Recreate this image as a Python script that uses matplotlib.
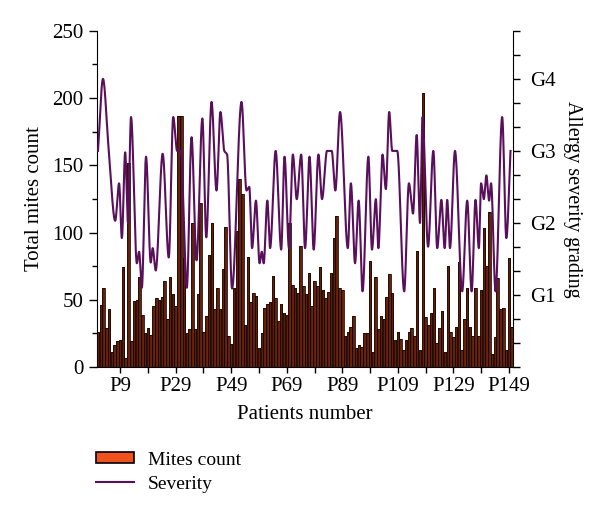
import numpy as np
import matplotlib
matplotlib.use('Agg')
import matplotlib.pyplot as plt
from matplotlib.colors import LinearSegmentedColormap
from matplotlib.patches import Patch
from matplotlib.lines import Line2D
from matplotlib.ticker import MultipleLocator

plt.rcParams['font.family'] = ['Liberation Serif', 'DejaVu Serif']

# mites count per patient (P1..P150)
mites = [26, 46, 59, 29, 43, 11, 16, 19, 20, 74, 7, 152,
         19, 49, 50, 67, 39, 25, 29, 24, 45, 51, 50, 52, 64, 36, 67, 54, 45,
         187, 187, 81, 25, 28, 107,
         28, 54, 122, 26, 38, 83, 107, 43, 59, 43, 73, 104, 23, 17, 59, 101,
         140, 129, 31, 82, 48, 55, 53, 14, 25, 44, 47, 48, 68, 51, 34, 47,
         40, 39, 107, 61, 59,
         55,
         90, 60, 54, 70, 45, 64, 60, 74, 57, 51, 56, 70, 96, 112, 59, 57,
         23, 26, 30, 38, 14, 16, 15, 25, 25, 79, 11, 67, 28, 38, 36, 52,
         69, 55, 20, 26,
         21, 13,
         20, 26, 29, 23, 86, 13, 204, 37, 31, 40, 59, 18, 29, 42, 11, 75,
         26, 22, 30, 78, 13, 36, 59, 30, 23, 59, 23, 57,
         103, 75, 115, 10, 22, 66, 43, 44, 13, 81, 30]
patients = np.arange(1, len(mites) + 1)

# severity curve: turning points (patient position, grade)
sev_x = [1, 2.8, 4.8, 7.2, 8.6, 9.6, 10.8, 11.8, 12.9, 15, 15.8, 16.8, 18.3, 20, 20.7,
         21.8, 24.3, 26.5, 28.1, 29.5, 30.8, 33, 34.7, 36.5, 38.6, 40, 41.9, 43.7, 45.1,
         46.5, 47.5, 49.3, 52.7, 54.5, 55.5, 56.5, 57.9, 59.2, 60, 60.7, 62, 63, 65, 67,
         68.2, 69.8, 71.2, 72.6, 74.2, 75.6, 77.2, 78.7, 80.4, 81.7, 83.5, 85.2, 86.5,
         88.2, 91, 92.1, 93.6, 94.9, 96.3, 98.4, 99.7, 101.1, 102, 103.5, 104.7, 105.9,
         107, 108.8, 111.3, 113, 114.5, 115.8, 117, 117.9, 119.9, 121.8, 123.2, 124.7,
         125.9, 126.8, 127.8, 129.6, 132.2, 134, 135.6, 137, 138.2, 139, 140, 140.9,
         141.9, 142.6, 144.2, 146.6, 148.1, 149.6]
sev_g = [3.0, 4.0, 3.05, 2.03, 2.55, 1.79, 2.98, 2.0, 3.47, 1.44, 1.6, 1.1, 2.92, 1.45,
         1.65, 1.34, 2.96, 1.52, 3.47, 3.0, 3.0, 1.1, 3.19, 1.48, 3.45, 1.8, 3.68, 2.45,
         3.54, 3.0, 2.95, 1.09, 3.68, 2.45, 2.5, 1.65, 2.31, 1.44, 1.6, 1.44, 2.31, 1.65,
         3.0, 1.63, 2.92, 1.65, 2.95, 2.33, 2.95, 1.65, 2.92, 1.63, 2.95, 2.33, 3.0, 3.0,
         2.45, 3.54, 1.65, 2.55, 1.44, 2.31, 1.05, 2.92, 1.63, 2.33, 1.65, 2.95, 2.47,
         3.54, 3.0, 3.0, 1.05, 2.55, 2.13, 3.22, 2.0, 3.47, 1.67, 3.0, 1.65, 2.32, 1.65,
         2.32, 1.65, 3.0, 1.05, 2.31, 1.05, 2.32, 1.65, 2.55, 2.33, 2.66, 2.31, 2.55,
         1.05, 3.47, 1.79, 3.0]

xticks_major = [9, 29, 49, 69, 89, 109, 129, 149]
xticks_minor = [19, 39, 59, 79, 99, 119, 139]
grade_labels = ['G1', 'G2', 'G3', 'G4']


def pchip(x, y, xs):
    # shape-preserving cubic so the line is smooth like the original
    x = np.asarray(x, float)
    y = np.asarray(y, float)
    h = np.diff(x)
    d = np.diff(y) / h
    m = np.zeros_like(y)
    m[0], m[-1] = d[0], d[-1]
    for k in range(1, len(x) - 1):
        if d[k - 1] * d[k] > 0:
            w1 = 2 * h[k] + h[k - 1]
            w2 = h[k] + 2 * h[k - 1]
            m[k] = (w1 + w2) / (w1 / d[k - 1] + w2 / d[k])
    idx = np.clip(np.searchsorted(x, xs) - 1, 0, len(x) - 2)
    t = (xs - x[idx]) / h[idx]
    h00 = 2 * t**3 - 3 * t**2 + 1
    h10 = t**3 - 2 * t**2 + t
    h01 = -2 * t**3 + 3 * t**2
    h11 = t**3 - t**2
    return h00 * y[idx] + h10 * h[idx] * m[idx] + h01 * y[idx + 1] + h11 * h[idx] * m[idx + 1]


fig = plt.figure(figsize=(6, 5.14), dpi=100)
ax = fig.add_axes([0.161, 0.286, 0.694, 0.654])

bars = ax.bar(patients, mites, width=0.9, facecolor='none',
              edgecolor='#1a0700', linewidth=0.6, zorder=3)
cmap = LinearSegmentedColormap.from_list('barfill', ['#d2581f', '#6a2410', '#4a1608', '#823015'])
grad = np.linspace(0, 1, 16).reshape(1, -1)
for rect in bars:
    x0 = rect.get_x()
    im = ax.imshow(grad, extent=[x0, x0 + rect.get_width(), 0, rect.get_height()],
                   aspect='auto', cmap=cmap, interpolation='bilinear', zorder=2)
    im.set_clip_path(rect)

ax.set_xlim(0.5, 150.5)
ax.set_ylim(0, 250)
ax.yaxis.set_major_locator(MultipleLocator(50))
ax.yaxis.set_minor_locator(MultipleLocator(25))
ax.set_xticks(xticks_major)
ax.set_xticklabels(['P%d' % p for p in xticks_major])
ax.set_xticks(xticks_minor, minor=True)
ax.tick_params(axis='both', which='major', direction='out', length=6, width=1, labelsize=15)
ax.tick_params(axis='both', which='minor', direction='out', length=3.5, width=1)
ax.tick_params(axis='x', which='both', length=4)
ax.spines['top'].set_visible(False)
ax.spines['right'].set_visible(False)
ax.set_ylabel('Total mites count', fontsize=15, labelpad=6)
ax.set_xlabel('Patients number', fontsize=15, labelpad=6)

ax2 = ax.twinx()
xs = np.linspace(sev_x[0], sev_x[-1], 3000)
ax2.plot(xs, pchip(sev_x, sev_g, xs), color='#5a0f5c', linewidth=1.5)
ax2.set_ylim(0, 14 / 3)
ax2.set_yticks(np.arange(15) / 3)
ax2.set_yticklabels(['' if k % 3 or k == 0 else grade_labels[k // 3 - 1] for k in range(15)])
ax2.tick_params(axis='y', direction='out', length=5, width=1, labelsize=15, pad=7)
for s in ['top', 'left', 'bottom']:
    ax2.spines[s].set_visible(False)
ax2.set_ylabel('Allergy severity grading', fontsize=14.5, rotation=270, labelpad=19)

handles = [Patch(facecolor='#f0521e', edgecolor='black', linewidth=1.2),
           Line2D([], [], color='#5a0f5c', linewidth=1.5)]
fig.legend(handles, ['Mites count', 'Severity'], loc='upper left',
           bbox_to_anchor=(0.13, 0.155), frameon=False, fontsize=14,
           handlelength=2.0, handleheight=0.5, handletextpad=0.7, labelspacing=0.35)

fig.savefig('out.png', dpi=100)
